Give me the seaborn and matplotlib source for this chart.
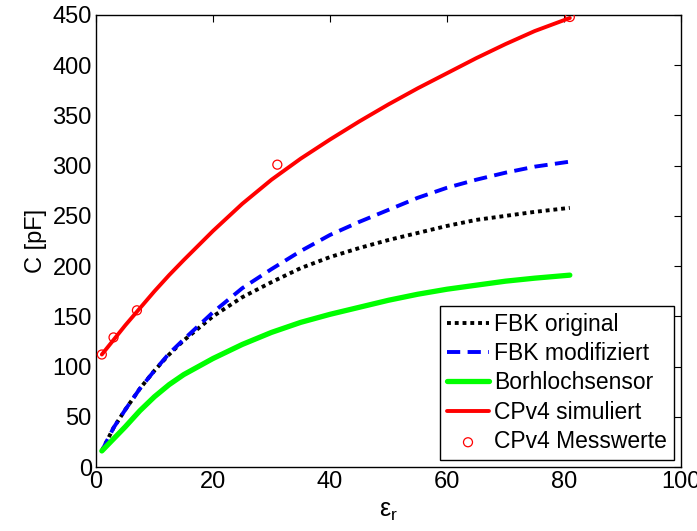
"""
Kapazität über Permittivität: FBK-Modelle, Bohrlochsensor und CPv4.
"""

import pandas as pd
import seaborn as sns
from matplotlib import pyplot as plt

# epsilon_r values the curves were read at
eps_r = [1, 3, 5, 7.5, 10, 12.5, 15, 20, 25, 30, 35, 40, 45, 50, 55, 60, 65, 70, 75, 81]

fbk_original = [16, 39, 57, 78, 96, 112, 126, 150, 169, 184, 198, 209, 218, 226, 233, 240, 246, 250, 254, 258]
fbk_modifiziert = [16, 39, 57, 78, 96, 113, 127, 154, 178, 197, 215, 231, 244, 256, 268, 278, 286, 293, 299, 304]
borhlochsensor = [16, 28, 40, 56, 70, 82, 92, 108, 122, 134, 144, 152, 159, 166, 172, 177, 181, 185, 188, 191]
cpv4_simuliert = [112, 126.5, 141, 158, 175, 191, 206, 235, 262, 286, 307, 326, 344, 361, 377, 392, 407, 421, 434, 447]

# measured points
mess_eps = [1, 3, 7, 31, 81]
mess_c = [112, 129, 156, 301, 448]

curves = pd.DataFrame({
    'eps': eps_r,
    'FBK original': fbk_original,
    'FBK modifiziert': fbk_modifiziert,
    'Borhlochsensor': borhlochsensor,
    'CPv4 simuliert': cpv4_simuliert,
})
mess = pd.DataFrame({'eps': mess_eps, 'C': mess_c})

sns.set_style('white')
plt.rcParams['font.family'] = ['Liberation Sans', 'DejaVu Sans']
plt.rcParams['mathtext.fontset'] = 'custom'
plt.rcParams['mathtext.rm'] = 'Liberation Sans'
plt.rcParams['mathtext.it'] = 'Liberation Sans'
plt.rcParams['text.color'] = 'black'
plt.rcParams['axes.labelcolor'] = 'black'
plt.rcParams['xtick.color'] = 'black'
plt.rcParams['ytick.color'] = 'black'

fig = plt.figure(figsize=(6.97, 5.31), dpi=100)
ax = fig.add_axes([0.1377, 0.1205, 0.977 - 0.1377, 0.9718 - 0.1205])

sns.lineplot(curves, x='eps', y='FBK original', ax=ax, color='black', lw=2.8,
             label='FBK original').lines[-1].set_dashes((1, 1))
sns.lineplot(curves, x='eps', y='FBK modifiziert', ax=ax, color='#0000ff', lw=2.8,
             label='FBK modifiziert').lines[-1].set_dashes((3.4, 1.9))
sns.lineplot(curves, x='eps', y='Borhlochsensor', ax=ax, color='#00ff00', lw=3.8,
             label='Borhlochsensor')
sns.lineplot(curves, x='eps', y='CPv4 simuliert', ax=ax, color='#ff0000', lw=2.8,
             label='CPv4 simuliert')
sns.scatterplot(mess, x='eps', y='C', ax=ax, marker='o', s=42, fc='none', ec='#ff0000',
                linewidth=0.9, label='CPv4 Messwerte', zorder=5)

ax.set_xlim(0, 100)
ax.set_ylim(0, 450)
ax.set_xticks(range(0, 101, 20))
ax.set_yticks(range(0, 451, 50))
ax.tick_params(direction='in', length=5, width=0.8, top=True, right=True, labelsize=17, pad=3)
for spine in ax.spines.values():
    spine.set_visible(True)
    spine.set_color('black')
    spine.set_linewidth(1.0)

ax.set_xlabel(r'$\mathregular{\varepsilon_r}$', fontsize=18, labelpad=4)
ax.set_ylabel('C [pF]', fontsize=17, labelpad=4)

leg = ax.legend(loc='lower right', fontsize=16.5, frameon=True, fancybox=False, edgecolor='black',
                framealpha=1, borderpad=0.3, labelspacing=0.28, handlelength=1.8,
                handletextpad=0.25, borderaxespad=0.3)
leg.get_frame().set_linewidth(1.0)

fig.savefig('out.png', dpi=100)
